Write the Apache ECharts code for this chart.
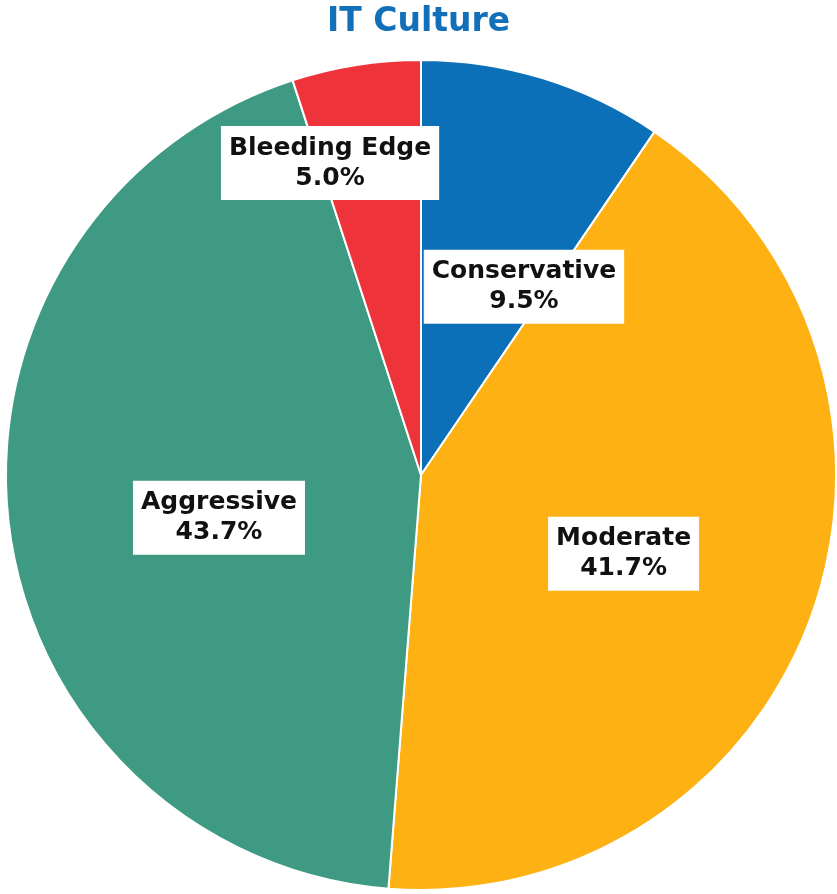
<!DOCTYPE html>
<html>
<head>
<meta charset="utf-8">
<title>IT Culture</title>
<script src="https://cdn.jsdelivr.net/npm/echarts@6/dist/echarts.min.js"></script>
<style>
  html, body { margin: 0; padding: 0; background: #ffffff; }
  #chart { width: 837px; height: 894px; }
</style>
</head>
<body>
<div id="chart"></div>
<script>
// Share of respondents by IT culture (percent)
const categories = ['Conservative', 'Moderate', 'Aggressive', 'Bleeding Edge'];
const shares = [9.5, 41.7, 43.7, 5.0];

// Slice colours, in category order
const sliceColors = ['#0b70b7', '#fdb113', '#3e9a82', '#ee333b'];
// Label nudges away from the default inside position, in category order
const labelNudges = [[41, 13], [4, 9], [7, 18], [-58, -104]];

const chart = echarts.init(document.getElementById('chart'), null, { renderer: 'canvas' });

const seriesData = categories.map((name, i) => ({
  name: name,
  value: shares[i],
  itemStyle: { color: sliceColors[i] },
  label: { offset: labelNudges[i] }
}));

chart.setOption({
  animation: false,
  title: {
    text: 'IT Culture',
    left: 'center',
    top: 1,
    textStyle: {
      color: '#1170b8',
      fontFamily: 'DejaVu Sans',
      fontWeight: 'bold',
      fontSize: 33
    }
  },
  series: [{
    type: 'pie',
    center: [421, 475],
    radius: 415,
    startAngle: 90,
    clockwise: true,
    avoidLabelOverlap: false,
    itemStyle: { borderColor: '#ffffff', borderWidth: 2 },
    label: {
      show: true,
      position: 'inside',
      formatter: p => p.name + '\n' + p.value.toFixed(1) + '%',
      color: '#111111',
      fontFamily: 'DejaVu Sans',
      fontWeight: 'bold',
      fontSize: 25,
      lineHeight: 30,
      backgroundColor: '#ffffff',
      padding: [7, 8, 7, 8],
      align: 'center'
    },
    labelLine: { show: false },
    emphasis: { disabled: true },
    data: seriesData
  }]
});
</script>
</body>
</html>
